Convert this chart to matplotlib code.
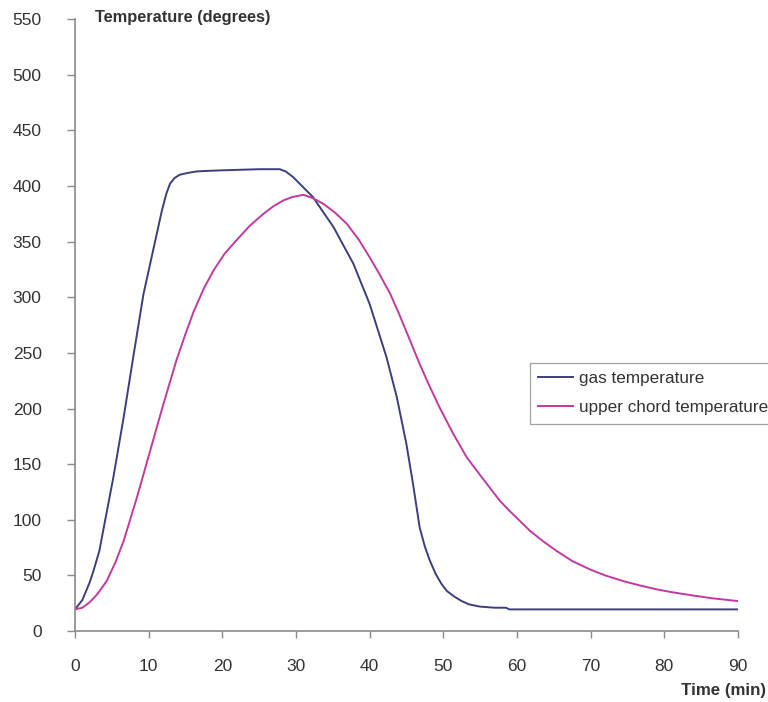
import matplotlib
matplotlib.use("Agg")
import matplotlib.pyplot as plt

# Time (min) and temperature readings for the two curves
gas_time = [0, 1, 2, 2.5, 3.3, 3.9, 5.2, 6.6, 7.9, 9.3, 10.6, 11.8, 12.4, 12.9,
            13.5, 14.2, 15.2, 16.5, 18, 20, 25, 27.8, 28.6, 29.6, 30.5, 31.4,
            32.3, 35.1, 37.8, 40, 42.3, 43.7, 45, 45.9, 46.8, 47.5, 48.2, 49,
            49.8, 50.5, 51.5, 52.5, 53.5, 55, 57, 58.5, 59, 90]
gas_temp = [19.5, 28, 44, 54, 72, 93, 138, 192, 246, 303, 342, 378, 393, 402,
            407, 410, 411.5, 413, 413.5, 414, 415, 415, 413, 408, 402, 396,
            390, 363, 330, 294, 246, 210, 168, 132, 93, 76, 63, 51, 42, 36, 31,
            27, 24, 22, 21, 21, 19.5, 19.5]

chord_time = [0, 1, 2, 3, 4.3, 5.5, 6.6, 8.4, 10.2, 12, 13.8, 15, 16.1, 17.5,
              18.8, 20.3, 21.9, 23.7, 25.6, 27, 28.3, 29.5, 31, 32.3, 33.7,
              35.3, 36.9, 38.5, 40, 41.4, 42.8, 44, 45, 46.8, 48, 49.5, 51.3,
              53.2, 54.8, 56.3, 57.7, 59, 61.8, 63.5, 65.4, 67.5, 69.9, 72,
              74.4, 76.7, 79, 81, 83.5, 86.5, 90]
chord_temp = [19.5, 21, 26, 33, 45, 62, 81, 120, 162, 204, 244, 267, 287, 308,
              324, 339, 351, 364, 375, 382, 387, 390, 392, 389, 384, 376, 366,
              352, 336, 320, 303, 285, 269, 240, 222, 201, 178, 156, 142, 129,
              117, 108, 90, 81, 72, 63, 55.5, 50, 45, 41, 37.5, 35, 32.4, 29.5,
              27]

x_ticks = list(range(0, 91, 10))
y_ticks = list(range(0, 551, 50))

plt.rcParams['font.family'] = ['Liberation Sans', 'DejaVu Sans']

fig = plt.figure(figsize=(7.68, 7.02), dpi=100)
ax = fig.add_axes([0.0977, 0.101, 0.863, 0.872])

ax.plot(gas_time, gas_temp, color='#3c3f7c', lw=1.4, label='gas temperature')
ax.plot(chord_time, chord_temp, color='#c2399f', lw=1.4,
        label='upper chord temperature')

ax.set_xlim(0, 90)
ax.set_ylim(0, 550)
ax.set_xticks(x_ticks)
ax.set_yticks(y_ticks)

for side in ['top', 'right']:
    ax.spines[side].set_visible(False)
for side in ['left', 'bottom']:
    ax.spines[side].set_color('#8a8a8a')
    ax.spines[side].set_linewidth(1.2)

ax.tick_params(axis='y', direction='out', length=6, width=1, color='#8a8a8a',
               labelsize=12.5, labelcolor='#333333', pad=18)
ax.tick_params(axis='x', direction='out', length=5, width=1, color='#8a8a8a',
               labelsize=12.5, labelcolor='#333333', pad=15)

fig.text(0.124, 0.975, 'Temperature (degrees)', fontsize=11.8,
         fontweight='bold', color='#333333', va='center', ha='left')
fig.text(0.998, 0.017, 'Time (min)', fontsize=12.2, fontweight='bold',
         color='#333333', va='center', ha='right')

leg = ax.legend(loc='upper left', bbox_to_anchor=(0.690, 0.483),
                bbox_transform=fig.transFigure, fontsize=12.3,
                frameon=True, fancybox=False, handlelength=2.05,
                handletextpad=0.3, borderpad=0.5, labelspacing=0.8,
                borderaxespad=0)
leg.get_frame().set_edgecolor('#8a8a8a')
leg.get_frame().set_linewidth(0.9)
for t in leg.get_texts():
    t.set_color('#333333')

fig.savefig('out.png', dpi=100)
